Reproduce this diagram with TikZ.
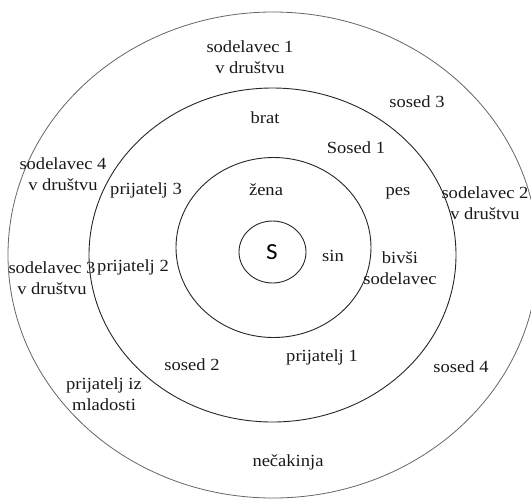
\documentclass[tikz,border=0pt]{standalone}
\usepackage{fontspec}
\setmainfont{Liberation Serif}
\newfontfamily\selffont{Carlito}
\begin{document}
\begin{tikzpicture}[x=1pt,y=-1pt,
  ring/.style={draw=black!85,line width=0.9pt},
  outerring/.style={draw=black!60,line width=0.8pt},
  lbl/.style={inner sep=0pt,align=center,xscale=1.09,
    font=\fontsize{17}{21.5}\selectfont,text=black!90}]
\useasboundingbox (0,0) rectangle (531,499);
\clip (0,0) rectangle (531,499);
% four rings of closeness around the self
\draw[outerring] (273,255) ellipse [x radius=265,y radius=243];
\draw[ring] (272.5,255) ellipse [x radius=183.5,y radius=167];
\draw[ring] (273.5,247.5) ellipse [x radius=97.5,y radius=90];
\draw[ring] (272.5,252) ellipse [x radius=33.5,y radius=31];
% self
\node[inner sep=0pt,xscale=1.09,font=\selffont\fontsize{23}{23}\selectfont] (self) at (272,252) {S};
% inner ring
\node[lbl] (zena) at (266,190) {žena};
\node[lbl] (sin) at (333,256) {sin};
% second ring
\node[lbl] (brat) at (265,118) {brat};
\node[lbl] (sosed1) at (356,148) {Sosed 1};
\node[lbl] (prij3) at (146,190) {prijatelj 3};
\node[lbl] (pes) at (398,193) {pes};
\node[lbl] (prij2) at (133,267) {prijatelj 2};
\node[lbl] (bivsi) at (400,268) {bivši\\sodelavec};
\node[lbl] (sosed2) at (192,365) {sosed 2};
\node[lbl] (prij1) at (322,357) {prijatelj 1};
% outer ring
\node[lbl] (sod1) at (250,57) {sodelavec 1\\v društvu};
\node[lbl] (sosed3) at (417,102) {sosed 3};
\node[lbl] (sod4) at (63,174) {sodelavec 4\\v društvu};
\node[lbl] (sod2) at (485,203) {sodelavec 2\\v društvu};
\node[lbl] (sod3) at (52,278) {sodelavec 3\\v društvu};
\node[lbl] (sosed4) at (461,367) {sosed 4};
\node[lbl] (mlad) at (104,394) {prijatelj iz\\mladosti};
\node[lbl] (necak) at (288,462) {nečakinja};
\end{tikzpicture}
\end{document}
